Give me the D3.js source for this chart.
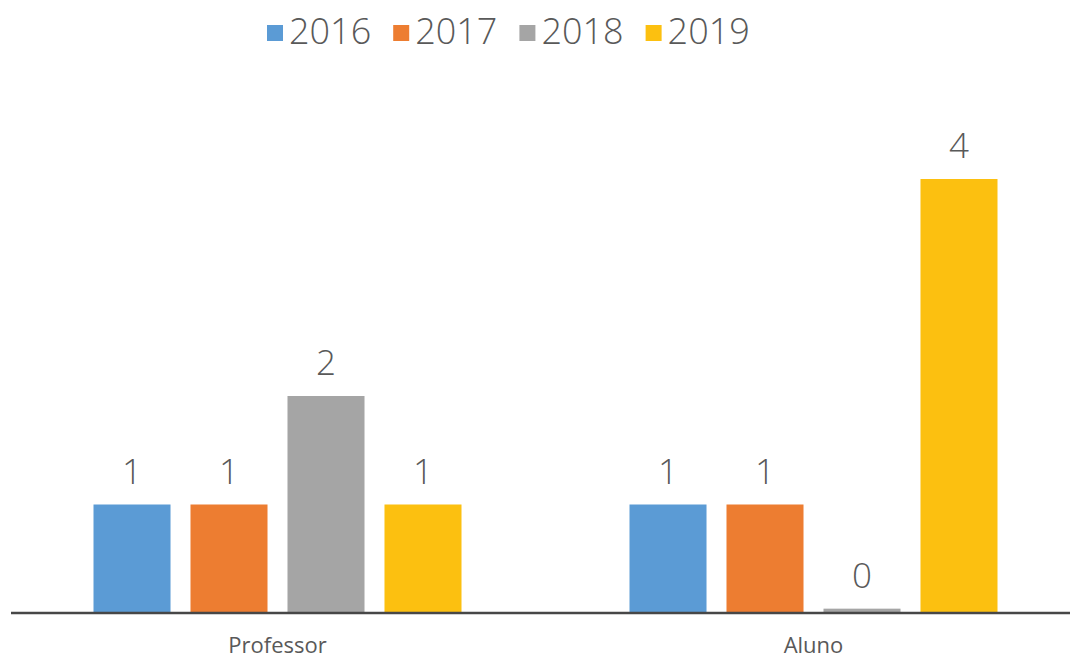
<!DOCTYPE html>
<html>
<head>
<meta charset="utf-8">
<script src="https://cdn.jsdelivr.net/npm/d3@7"></script>
<style>
  html, body { margin: 0; padding: 0; background: #ffffff; }
  svg { display: block; }
</style>
</head>
<body>
<svg id="chart" width="1070" height="660"></svg>
<script>
const categories = ["Professor", "Aluno"];
const years = ["2016", "2017", "2018", "2019"];
const values2016 = [1, 1];
const values2017 = [1, 1];
const values2018 = [2, 0.04];
const values2019 = [1, 4];
const colors = ["#5B9BD5", "#ED7D31", "#A5A5A5", "#FCC010"];

const seriesValues = [values2016, values2017, values2018, values2019];
const data = categories.map((c, i) => ({
  category: c,
  values: years.map((y, j) => ({ year: y, value: seriesValues[j][i], color: colors[j] }))
}));

const svg = d3.select("#chart");
const textColor = "#595959";
const fontFamily = "'Open Sans', 'Noto Sans', sans-serif";

const x0 = d3.scaleBand().domain(categories).range([9.5, 1081.5]).paddingInner(0).paddingOuter(0);
const x1 = d3.scaleBand().domain(years).range([0, x0.bandwidth()]).paddingInner(0.206).paddingOuter(0.866);
const y = d3.scaleLinear().domain([0, 4]).range([613, 179]);

// bars
const groups = svg.append("g").selectAll("g")
  .data(data).join("g")
  .attr("transform", d => `translate(${x0(d.category)},0)`);

groups.selectAll("rect")
  .data(d => d.values).join("rect")
  .attr("x", d => x1(d.year))
  .attr("y", d => y(d.value))
  .attr("width", x1.bandwidth())
  .attr("height", d => y(0) - y(d.value))
  .attr("fill", d => d.color);

groups.selectAll("text.val")
  .data(d => d.values).join("text")
  .attr("class", "val")
  .attr("x", d => x1(d.year) + x1.bandwidth() / 2)
  .attr("y", d => y(d.value) - 21)
  .attr("text-anchor", "middle")
  .attr("font-family", fontFamily)
  .attr("font-weight", 300)
  .attr("font-size", 35)
  .attr("fill", textColor)
  .text(d => d3.format(".0f")(d.value));

// x axis
const xAxis = d3.axisBottom(x0).tickSize(0).tickPadding(0);
const axisG = svg.append("g").attr("transform", `translate(0,${y(0)})`).call(xAxis);
axisG.select(".domain").attr("stroke", "#474747").attr("stroke-width", 2.5)
  .attr("d", `M11,0H1070`);
axisG.selectAll(".tick text")
  .attr("y", 40)
  .attr("dy", 0)
  .attr("font-family", fontFamily)
  .attr("font-size", 22)
  .attr("fill", textColor);

// legend
const legend = svg.append("g");
let lx = 267;
years.forEach((yr, i) => {
  const g = legend.append("g");
  g.append("rect").attr("x", lx).attr("y", 25).attr("width", 16).attr("height", 16).attr("fill", colors[i]);
  const t = g.append("text")
    .attr("x", lx + 22).attr("y", 44)
    .attr("font-family", fontFamily)
    .attr("font-weight", 300)
    .attr("font-size", 36)
    .attr("fill", textColor)
    .text(yr);
  lx += 22 + t.node().getComputedTextLength() + 22;
});
</script>
</body>
</html>
